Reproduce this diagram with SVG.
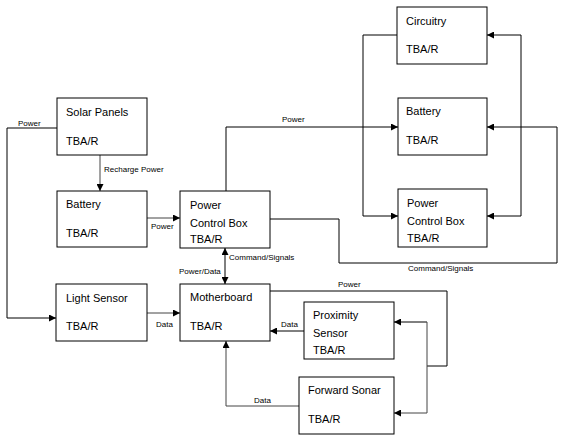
<svg xmlns="http://www.w3.org/2000/svg" width="564" height="446" viewBox="0 0 564 446">
<defs>
<marker id="ah" viewBox="0 0 10 10" refX="10" refY="5" markerWidth="7" markerHeight="7" markerUnits="userSpaceOnUse" orient="auto-start-reverse">
<path d="M0,0 L10,5 L0,10 z" fill="#000"/>
</marker>
<style>
.box{fill:#fff;stroke:#000;stroke-width:1}
.t{font-family:"Liberation Sans",Arial,sans-serif;font-size:11px;fill:#000}
.s{font-family:"Liberation Sans",Arial,sans-serif;font-size:8px;fill:#000}
.c{fill:none;stroke:#000;stroke-width:1}
.g{stroke:#444}
.a{marker-end:url(#ah)}
.b{marker-start:url(#ah);marker-end:url(#ah)}
</style>
</defs>
<rect width="564" height="446" fill="#fff"/>
<g id="connectors">
<polyline class="c a" points="57,128 7,128 7,318 56,318"/>
<line class="c g a" x1="100" y1="155" x2="100" y2="191"/>
<line class="c g a" x1="147" y1="218" x2="180" y2="218"/>
<polyline class="c a" points="226,191 226,127 398,127"/>
<polyline class="c a" points="397,35 363,35 363,216 398,216"/>
<polyline class="c a" points="521,35 487,35"/>
<polyline class="c a" points="521,35 521,216 487,216"/>
<polyline class="c a" points="270,219 339,219 339,263 557,263 557,127 487,127"/>
<line class="c b" x1="225" y1="248" x2="225" y2="284"/>
<line class="c g a" x1="147" y1="313" x2="180" y2="313"/>
<polyline class="c" points="270,291 447,291 447,366 427,366"/>
<polyline class="c a" points="427,322 394,322"/>
<polyline class="c g a" points="427,322 427,413 394,413"/>
<line class="c a" x1="304" y1="331" x2="270" y2="331"/>
<polyline class="c g a" points="299,406 226,406 226,341"/>
<text class="s" x="18" y="126">Power</text>
<text class="s" x="104" y="172">Recharge Power</text>
<text class="s" x="151" y="229">Power</text>
<text class="s" x="282" y="122">Power</text>
<text class="s" x="408" y="271">Command/Signals</text>
<text class="s" x="229" y="260">Command/Signals</text>
<text class="s" x="179" y="274">Power/Data</text>
<text class="s" x="156" y="327">Data</text>
<text class="s" x="338" y="287">Power</text>
<text class="s" x="281" y="327">Data</text>
<text class="s" x="254" y="403">Data</text>
</g>
<g id="solar-panels"><rect class="box" x="57" y="98" width="90" height="57"/><text class="t" x="66" y="116">Solar Panels</text><text class="t" x="66" y="145">TBA/R</text></g>
<g id="battery-left"><rect class="box" x="57" y="191" width="90" height="56"/><text class="t" x="66" y="208">Battery</text><text class="t" x="66" y="237">TBA/R</text></g>
<g id="power-control-box-left"><rect class="box" x="180" y="191" width="90" height="57"/><text class="t" x="190" y="209">Power</text><text class="t" x="190" y="227">Control Box</text><text class="t" x="190" y="243">TBA/R</text></g>
<g id="light-sensor"><rect class="box" x="56" y="284" width="91" height="57"/><text class="t" x="66" y="302">Light Sensor</text><text class="t" x="66" y="330">TBA/R</text></g>
<g id="motherboard"><rect class="box" x="180" y="284" width="90" height="57"/><text class="t" x="190" y="301">Motherboard</text><text class="t" x="190" y="330">TBA/R</text></g>
<g id="proximity-sensor"><rect class="box" x="304" y="302" width="90" height="57"/><text class="t" x="313" y="319">Proximity</text><text class="t" x="313" y="337">Sensor</text><text class="t" x="313" y="354">TBA/R</text></g>
<g id="forward-sonar"><rect class="box" x="299" y="377" width="95" height="57"/><text class="t" x="308" y="394">Forward Sonar</text><text class="t" x="308" y="423">TBA/R</text></g>
<g id="circuitry"><rect class="box" x="397" y="7" width="90" height="57"/><text class="t" x="406" y="25">Circuitry</text><text class="t" x="406" y="53">TBA/R</text></g>
<g id="battery-right"><rect class="box" x="398" y="98" width="89" height="57"/><text class="t" x="406" y="115">Battery</text><text class="t" x="406" y="144">TBA/R</text></g>
<g id="power-control-box-right"><rect class="box" x="398" y="189" width="89" height="58"/><text class="t" x="407" y="207">Power</text><text class="t" x="407" y="225">Control Box</text><text class="t" x="407" y="242">TBA/R</text></g>
</svg>
